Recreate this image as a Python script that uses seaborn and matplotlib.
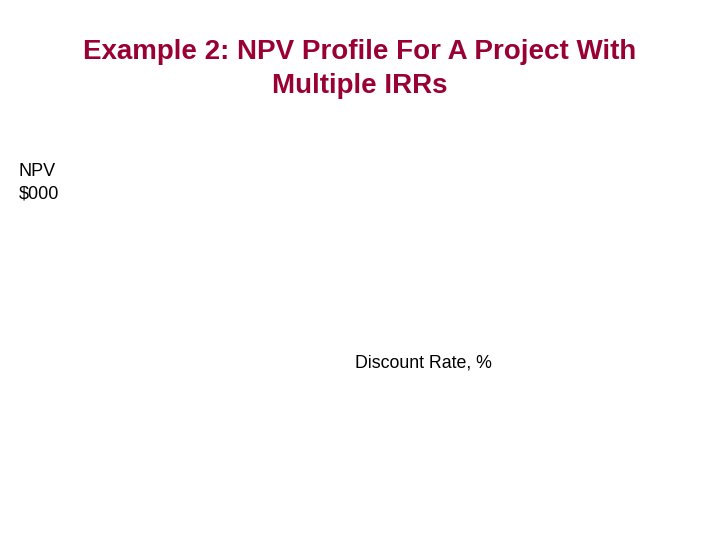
import matplotlib
matplotlib.use("Agg")
import matplotlib.pyplot as plt
import seaborn as sns

# the slide only carries its labels, the plotted profile itself is not shown
title_lines = ["Example 2: NPV Profile For A Project With", "Multiple IRRs"]
y_label = "NPV\n$000"
x_label = "Discount Rate, %"

sns.set_theme(style="white")
plt.rcParams['font.family'] = ['Liberation Sans', 'DejaVu Sans']

fig = plt.figure(figsize=(7.2, 5.4), dpi=100)
ax = fig.add_axes([0, 0, 1, 1])
ax.set_axis_off()

fig.text(0.5, 1 - 52 / 540, title_lines[0], ha="center", va="center",
         fontsize=20, fontweight="bold", color="#990033")
fig.text(0.5, 1 - 86 / 540, title_lines[1], ha="center", va="center",
         fontsize=20, fontweight="bold", color="#990033")

fig.text(19 / 720, 1 - 163 / 540, y_label, ha="left", va="top",
         fontsize=13, color="black", linespacing=1.4)
fig.text(355 / 720, 1 - 363 / 540, x_label, ha="left", va="center",
         fontsize=12.8, color="black")

fig.savefig("out.png", dpi=100, facecolor="white")
